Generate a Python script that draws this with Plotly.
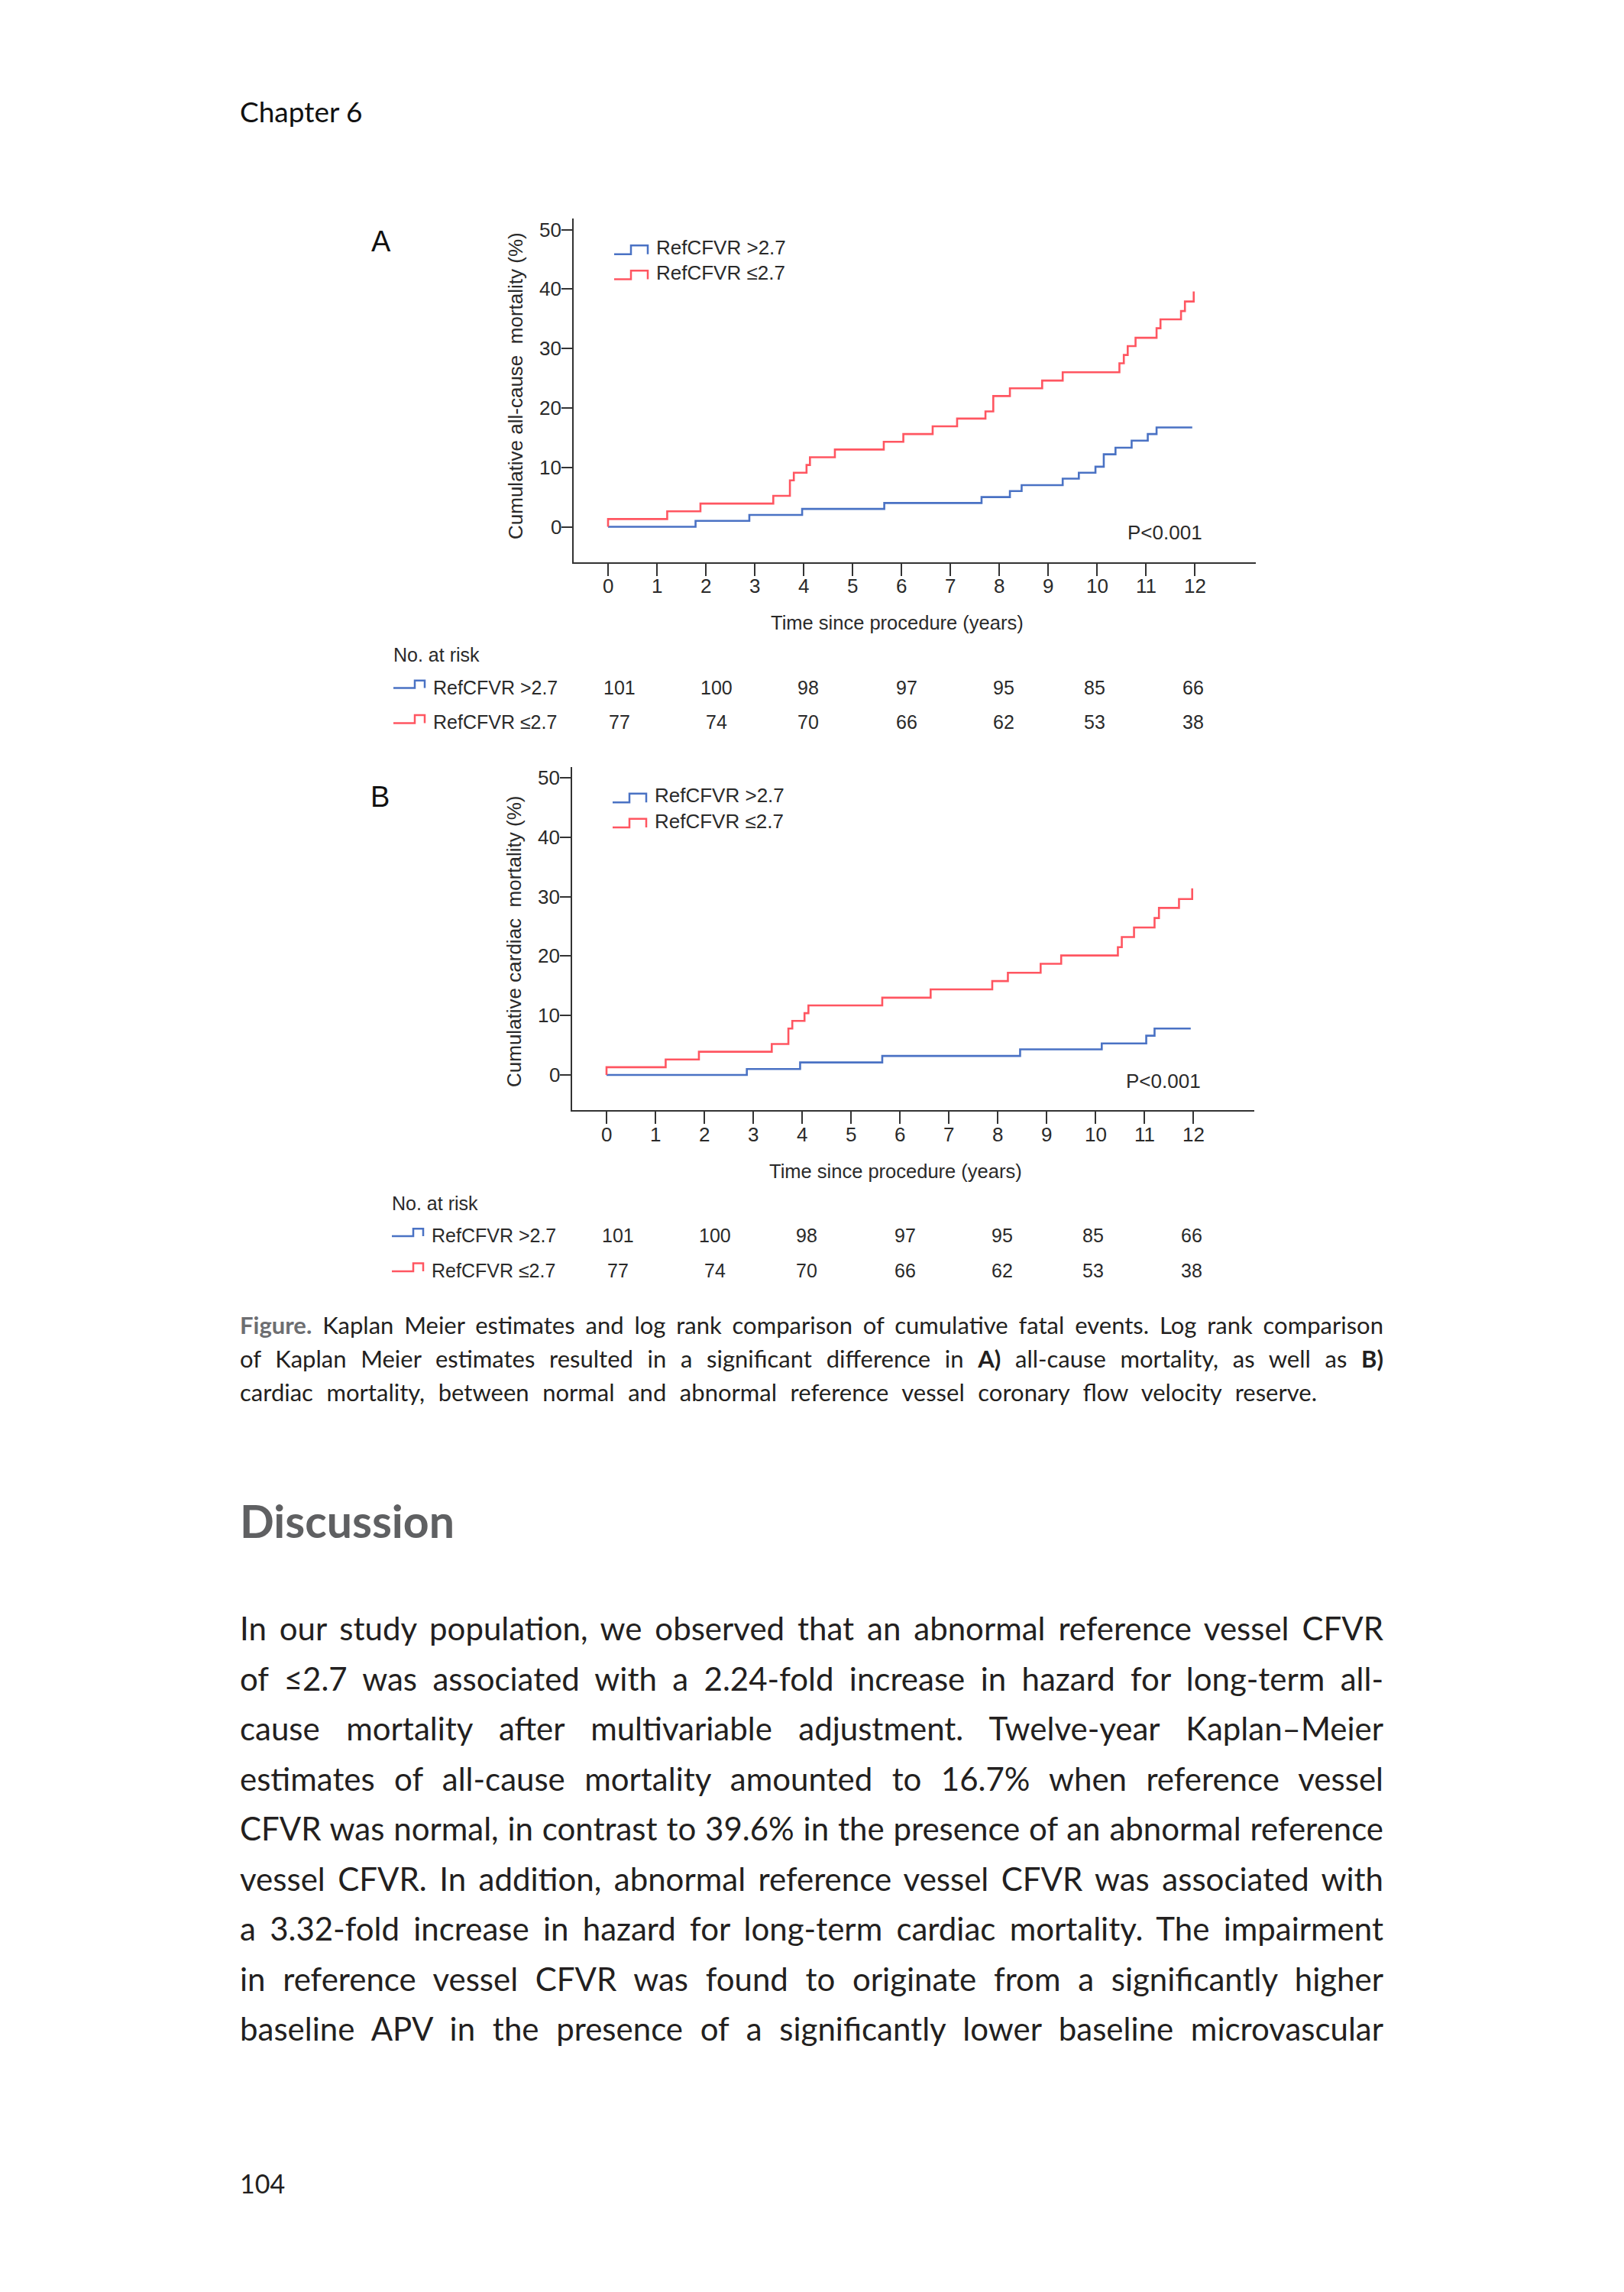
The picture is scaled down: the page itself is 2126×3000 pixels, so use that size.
import json
import plotly.graph_objects as go

W, H = 2126, 3000

# ---------------- data ----------------
time_ticks = list(range(0, 13))
mort_ticks = [0, 10, 20, 30, 40, 50]

# Panel A: all-cause mortality (Kaplan-Meier, %)
a_high_t = [0, 1.79, 2.89, 3.97, 5.65, 7.64, 8.22, 8.46, 9.30, 9.63, 9.97, 10.14, 10.38, 10.71, 11.04, 11.22, 11.95]
a_high_v = [0, 1.0, 2.0, 3.0, 4.0, 5.0, 6.0, 7.0, 8.1, 9.1, 10.1, 12.2, 13.3, 14.5, 15.6, 16.7, 16.7]
a_low_t = [0, 0, 1.21, 1.89, 3.38, 3.72, 3.80, 4.06, 4.13, 4.64, 5.64, 6.04, 6.64, 7.14, 7.72, 7.88,
           8.22, 8.88, 9.30, 10.46, 10.55, 10.63, 10.79, 11.22, 11.30, 11.72, 11.80, 11.98]
a_low_v = [0, 1.3, 2.6, 3.9, 5.2, 7.8, 9.1, 10.4, 11.7, 13.0, 14.3, 15.6, 16.9, 18.2, 19.4, 22.0,
           23.3, 24.6, 26.0, 27.5, 28.9, 30.4, 31.8, 33.4, 34.9, 36.3, 37.9, 39.6]

# Panel B: cardiac mortality (Kaplan-Meier, %)
b_high_t = [0, 2.87, 3.96, 5.64, 8.46, 10.13, 11.04, 11.21, 11.95]
b_high_v = [0, 1.0, 2.1, 3.2, 4.3, 5.3, 6.6, 7.8, 7.8]
b_low_t = [0, 0, 1.21, 1.89, 3.38, 3.72, 3.80, 4.05, 4.13, 5.64, 6.63, 7.89, 8.21, 8.88, 9.30,
           10.46, 10.54, 10.79, 11.21, 11.30, 11.71, 11.98]
b_low_v = [0, 1.3, 2.6, 3.9, 5.2, 7.8, 9.1, 10.4, 11.7, 13.0, 14.4, 15.8, 17.2, 18.7, 20.1,
           21.5, 23.2, 24.8, 26.4, 28.1, 29.6, 31.4]

risk_times = [0, 2, 4, 6, 8, 10, 12]
risk_high = [101, 100, 98, 97, 95, 85, 66]
risk_low = [77, 74, 70, 66, 62, 53, 38]

group_labels = ["RefCFVR >2.7", "RefCFVR ≤2.7"]
y_titles = ["Cumulative all-cause\u00a0 mortality (%)", "Cumulative cardiac\u00a0 mortality (%)"]
panel_letters = ["A", "B"]
x_title = "Time since procedure (years)"
p_text = "P<0.001"

caption_lines = [
    "<span style='color:#6d6e71'><b>Figure.</b></span> Kaplan Meier estimates and log rank comparison of cumulative fatal events. Log rank comparison",
    "of Kaplan Meier estimates resulted in a significant difference in <b>A)</b> all-cause mortality, as well as <b>B)</b>",
    "cardiac mortality, between normal and abnormal reference vessel coronary flow velocity reserve.",
]
body_lines = [
    "In our study population, we observed that an abnormal reference vessel CFVR",
    "of ≤2.7 was associated with a 2.24-fold increase in hazard for long-term all-",
    "cause mortality after multivariable adjustment. Twelve-year Kaplan–Meier",
    "estimates of all-cause mortality amounted to 16.7% when reference vessel",
    "CFVR was normal, in contrast to 39.6% in the presence of an abnormal reference",
    "vessel CFVR. In addition, abnormal reference vessel CFVR was associated with",
    "a 3.32-fold increase in hazard for long-term cardiac mortality. The impairment",
    "in reference vessel CFVR was found to originate from a significantly higher",
    "baseline APV in the presence of a significantly lower baseline microvascular",
]

# ---------------- styling ----------------
BLUE = "#4a72c4"
RED = "#ff5661"
AX = "#333333"
TXT = "#2a2a2a"
CHART_FONT = "Liberation Sans, Arial, sans-serif"
PAGE_FONT = "Lato, 'Open Sans', sans-serif"


def px(X):
    return X / W


def py(Y):
    return 1 - Y / H


fig = go.Figure()
annotations = []
shapes = []
justify_specs = []


def ann(text, X, Y, size, family=PAGE_FONT, color="#231f20", xanchor="left", yanchor="middle", **kw):
    annotations.append(dict(text=text, x=px(X), y=py(Y), xref="paper", yref="paper",
                            showarrow=False, xanchor=xanchor, yanchor=yanchor, align="left",
                            font=dict(family=family, size=size, color=color), **kw))
    return len(annotations) - 1


def glyph(x0, xm, x1, ylow, yhigh, color):
    path = "M{},{} L{},{} L{},{} L{},{} L{},{}".format(
        px(x0), py(ylow), px(xm), py(ylow), px(xm), py(yhigh), px(x1), py(yhigh), px(x1), py(ylow))
    shapes.append(dict(type="path", path=path, xref="paper", yref="paper",
                       line=dict(color=color, width=2.5)))


panels = [
    dict(xa="x", ya="y", dx=0.0, dy=0.0, letter_y=316, high=(a_high_t, a_high_v), low=(a_low_t, a_low_v)),
    dict(xa="x2", ya="y2", dx=-2.0, dy=717.5, letter_y=1043, high=(b_high_t, b_high_v), low=(b_low_t, b_low_v)),
]

# plot-area geometry in pixels (panel A): t=0 at x=796, 64 px/yr ; 0% at y=689.5, 7.78 px/%
X_LEFT, X_RIGHT, Y_TOP, Y_BOT = 751.0, 1644.0, 286.0, 735.6
T0, PX_PER_YR = 796.0, 64.0
V0, PX_PER_PCT = 689.5, 7.78
xr = [(X_LEFT - T0) / PX_PER_YR, (X_RIGHT - T0) / PX_PER_YR]
yr = [(V0 - Y_BOT) / PX_PER_PCT, (V0 - Y_TOP) / PX_PER_PCT]
risk_xshift = [15, 14, 6, 7, 6, -3, -2]

for i, p in enumerate(panels):
    dx, dy = p["dx"], p["dy"]
    for (t, v), col in ((p["high"], BLUE), (p["low"], RED)):
        fig.add_trace(go.Scatter(x=t, y=v, mode="lines", line=dict(color=col, width=2.6, shape="hv"),
                                 xaxis=p["xa"], yaxis=p["ya"], showlegend=False, hoverinfo="skip"))
    sfx = "" if i == 0 else "2"
    axis_common = dict(showline=True, linecolor=AX, linewidth=2, ticks="outside", tickcolor=AX,
                       tickwidth=2, showgrid=False, zeroline=False, showticklabels=False)
    fig.layout["xaxis" + sfx] = dict(domain=[px(X_LEFT + dx), px(X_RIGHT + dx)], range=xr,
                                     anchor="y" + sfx, tickvals=time_ticks, ticklen=16, **axis_common)
    fig.layout["yaxis" + sfx] = dict(domain=[py(Y_BOT + dy), py(Y_TOP + dy)], range=yr,
                                     anchor="x" + sfx, tickvals=mort_ticks, ticklen=14, **axis_common)

    # tick labels
    for t in time_ticks:
        annotations.append(dict(text=str(t), x=t, xref=p["xa"], y=py(767 + dy), yref="paper",
                                showarrow=False, xanchor="center", yanchor="middle",
                                font=dict(family=CHART_FONT, size=26, color=TXT)))
    for v in mort_ticks:
        annotations.append(dict(text=str(v), x=px(737 + dx), xref="paper", y=v, yref=p["ya"],
                                showarrow=False, xanchor="right", yanchor="middle",
                                font=dict(family=CHART_FONT, size=26, color=TXT)))

    # panel letter
    ann(panel_letters[i], 499 + dx, p["letter_y"], 38, family=CHART_FONT, color="#111", xanchor="center")
    # axis titles
    ann(y_titles[i], 675 + dx, 708 + dy, 26, family=CHART_FONT, color=TXT,
        xanchor="center", yanchor="bottom", textangle=-90)
    ann(x_title, 1174 + dx, 815 + dy, 25.5, family=CHART_FONT, color=TXT, xanchor="center")
    # in-chart legend
    glyph(804 + dx, 826 + dx, 848 + dx, 332.8 + dy, 321.3 + dy, BLUE)
    glyph(804 + dx, 826 + dx, 848 + dx, 365.5 + dy, 354.3 + dy, RED)
    ann(group_labels[0], 857 + dx, 323.5 + dy, 26, family=CHART_FONT, color=TXT)
    ann(group_labels[1], 857 + dx, 357 + dy, 26, family=CHART_FONT, color=TXT)
    # p value
    ann(p_text, 1525 + dx, 697 + dy, 26, family=CHART_FONT, color=TXT, xanchor="center")
    # risk table
    ann("No. at risk", 513 + dx, 857 + dy, 25, family=CHART_FONT, color=TXT)
    glyph(515 + dx, 543 + dx, 556 + dx, 900.6 + dy, 890.7 + dy, BLUE)
    glyph(515 + dx, 543 + dx, 556 + dx, 946.5 + dy, 936 + dy, RED)
    ann(group_labels[0], 565 + dx, 899.5 + dy, 25, family=CHART_FONT, color=TXT)
    ann(group_labels[1], 565 + dx, 945 + dy, 25, family=CHART_FONT, color=TXT)
    for vals, yy in ((risk_high, 899.5), (risk_low, 945)):
        for t, n, sh in zip(risk_times, vals, risk_xshift):
            annotations.append(dict(text=str(n), x=t, xref=p["xa"], y=py(yy + dy), yref="paper",
                                    xshift=sh, showarrow=False, xanchor="center", yanchor="middle",
                                    font=dict(family=CHART_FONT, size=25, color=TXT)))

# ---------------- page text ----------------
LEFT, RIGHT = 312.0, 1811.0
ann("Chapter 6", LEFT, 145, 37, color="#111111")

cap_y = [1734, 1778, 1822]
cap_right = [RIGHT, RIGHT, 1724.0]
for line, yy, rr in zip(caption_lines, cap_y, cap_right):
    idx = ann(line, LEFT, yy, 31, color="#231f20")
    justify_specs.append([idx, rr - LEFT])

ann("<b>Discussion</b>", LEFT, 1990, 59, color="#5f6062")

for k, line in enumerate(body_lines):
    idx = ann(line, LEFT, 2131 + 65.5 * k, 42, color="#231f20")
    justify_specs.append([idx, RIGHT - LEFT])

ann("104", LEFT, 2857, 34, color="#231f20")

fig.update_layout(width=W, height=H, autosize=False, margin=dict(l=0, r=0, t=0, b=0),
                  paper_bgcolor="white", plot_bgcolor="white", showlegend=False,
                  annotations=annotations, shapes=shapes, hovermode=False)

post_js = """
(function(){
  document.body.style.margin = '0px';
  document.body.style.padding = '0px';
  var gd = document.getElementById('{plot_id}');
  var specs = SPECS;
  function justify(){
    specs.forEach(function(s){
      var g = gd.querySelector('g.annotation[data-index="' + s[0] + '"]');
      if(!g) return;
      var t = g.querySelector('text.annotation-text');
      if(!t) return;
      t.style.wordSpacing = '0px';
      var w = t.getComputedTextLength();
      var n = (t.textContent.match(/ /g) || []).length;
      if(n > 0) t.style.wordSpacing = ((s[1] - w - 2) / n) + 'px';
    });
  }
  try { justify(); } catch(e) {}
  setTimeout(justify, 30);
  setTimeout(justify, 300);
  if (document.fonts && document.fonts.ready) { document.fonts.ready.then(justify); }
  if (gd && gd.on) { gd.on('plotly_afterplot', justify); }
})();
""".replace("SPECS", json.dumps(justify_specs))

fig.write_html("out.html", post_script=post_js,
               config={"displayModeBar": False, "staticPlot": True})
